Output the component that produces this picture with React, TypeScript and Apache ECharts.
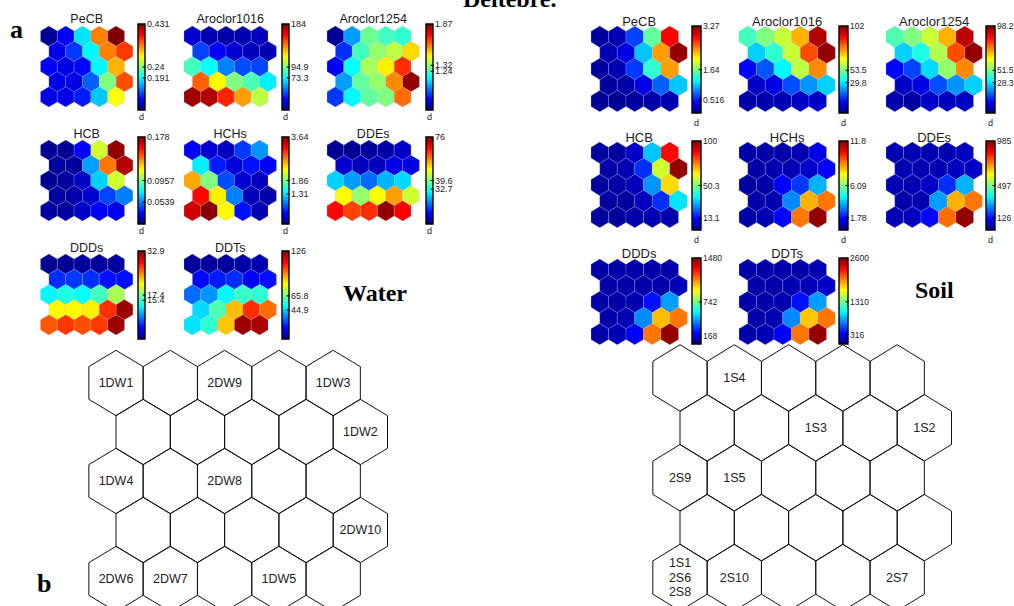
import React, { useEffect, useRef } from "react";
import * as echarts from "echarts";

// ---------------- DATA ----------------
const COLS = 5;

// colour level of each map unit (fraction of the colour bar, 0 = bottom, 1 = top), row by row
const planeNames = ["PeCB", "Aroclor1016", "Aroclor1254", "HCB", "HCHs", "DDEs", "DDDs", "DDTs"];

const waterPeCB = [0.02,0.12,0.35,0.75,1.0, 0.10,0.18,0.37,0.75,0.82, 0.12,0.10,0.13,0.37,0.70, 0.10,0.10,0.22,0.50,0.80, 0.10,0.10,0.15,0.32,0.62];
const waterAroclor1016 = [0.08,0.05,0.04,0.05,0.06, 0.19,0.12,0.08,0.06,0.05, 0.44,0.38,0.25,0.20,0.19, 0.78,0.63,0.50,0.45,0.36, 0.97,0.95,0.84,0.72,0.56];
const waterAroclor1254 = [0.02,0.28,0.48,0.44,0.42, 0.17,0.44,0.52,0.56,0.66, 0.12,0.38,0.54,0.64,0.83, 0.28,0.47,0.52,0.74,0.98, 0.18,0.37,0.47,0.50,0.77];
const waterHCB = [0.02,0.02,0.13,0.58,0.98, 0.03,0.03,0.28,0.76,0.95, 0.02,0.03,0.07,0.33,0.58, 0.03,0.04,0.08,0.19,0.25, 0.03,0.03,0.07,0.12,0.11];
const waterHCHs = [0.12,0.08,0.06,0.18,0.27, 0.36,0.15,0.09,0.14,0.12, 0.71,0.50,0.20,0.08,0.06, 0.87,0.64,0.25,0.06,0.04, 0.92,0.99,0.63,0.14,0.05];
const waterDDEs = [0.02,0.02,0.03,0.04,0.07, 0.08,0.06,0.06,0.10,0.10, 0.33,0.28,0.23,0.30,0.34, 0.63,0.52,0.62,0.72,0.58, 0.87,0.81,0.83,0.98,0.88];
const waterDDDs = [0.02,0.02,0.03,0.03,0.03, 0.17,0.18,0.17,0.14,0.14, 0.37,0.40,0.38,0.44,0.54, 0.63,0.63,0.64,0.83,0.97, 0.79,0.82,0.80,0.82,0.97];
const waterDDTs = [0.03,0.03,0.03,0.04,0.05, 0.13,0.15,0.17,0.12,0.14, 0.23,0.27,0.37,0.43,0.42, 0.34,0.45,0.69,0.83,0.77, 0.35,0.42,0.68,0.97,0.96];

const soilPeCB = [0.03,0.05,0.19,0.47,0.88, 0.05,0.10,0.32,0.72,0.98, 0.03,0.05,0.18,0.42,0.72, 0.03,0.04,0.10,0.22,0.32, 0.02,0.02,0.03,0.04,0.05];
const soilAroclor1016 = [0.44,0.50,0.57,0.70,0.95, 0.33,0.42,0.57,0.80,0.98, 0.13,0.21,0.37,0.56,0.74, 0.07,0.10,0.20,0.27,0.33, 0.04,0.04,0.05,0.07,0.07];
const soilAroclor1254 = [0.45,0.50,0.57,0.70,0.94, 0.33,0.40,0.55,0.80,0.98, 0.13,0.19,0.34,0.52,0.74, 0.07,0.10,0.20,0.27,0.33, 0.04,0.03,0.07,0.06,0.07];
const soilHCB = [0.03,0.03,0.07,0.32,0.87, 0.04,0.05,0.17,0.58,0.98, 0.03,0.04,0.06,0.27,0.66, 0.03,0.03,0.06,0.17,0.35, 0.03,0.03,0.04,0.05,0.04];
const soilHCHs = [0.04,0.04,0.04,0.05,0.10, 0.04,0.05,0.05,0.07,0.12, 0.03,0.04,0.12,0.18,0.30, 0.04,0.05,0.26,0.70,0.76, 0.04,0.05,0.13,0.76,0.98];
const soilDDEs = [0.05,0.05,0.05,0.05,0.06, 0.05,0.05,0.05,0.06,0.07, 0.05,0.05,0.07,0.17,0.30, 0.04,0.05,0.28,0.70,0.76, 0.05,0.06,0.13,0.77,0.98];
const soilDDDs = [0.04,0.04,0.04,0.04,0.04, 0.04,0.04,0.04,0.04,0.06, 0.04,0.04,0.05,0.14,0.28, 0.04,0.05,0.26,0.69,0.76, 0.04,0.05,0.12,0.76,0.98];
const soilDDTs = [0.04,0.04,0.04,0.04,0.05, 0.04,0.04,0.05,0.06,0.07, 0.04,0.04,0.05,0.14,0.28, 0.04,0.05,0.26,0.68,0.76, 0.04,0.05,0.12,0.76,0.98];

// colour-bar tick labels and their level on the bar
const waterTickLabels = [
  ["0.431", "0.24", "0.191"], ["184", "94.9", "73.3"], ["1.87", "1.32", "1.24"],
  ["0.178", "0.0957", "0.0539"], ["3.64", "1.86", "1.31"], ["76", "39.6", "32.7"],
  ["32.9", "17.4", "15.4"], ["126", "65.8", "44.9"],
];
const waterTickLevels = [
  [1, 0.5, 0.372], [1, 0.5, 0.375], [1, 0.52, 0.45],
  [1, 0.5, 0.25], [1, 0.5, 0.345], [1, 0.5, 0.4],
  [1, 0.5, 0.44], [1, 0.49, 0.33],
];
const soilTickLabels = [
  ["3.27", "1.64", "0.516"], ["102", "53.5", "29.8"], ["98.2", "51.5", "28.3"],
  ["100", "50.3", "13.1"], ["11.8", "6.09", "1.78"], ["985", "497", "126"],
  ["1480", "742", "168"], ["2600", "1310", "316"],
];
const soilTickLevels = [
  [1, 0.5, 0.15], [1, 0.49, 0.35], [1, 0.49, 0.35],
  [1, 0.5, 0.13], [1, 0.5, 0.14], [1, 0.5, 0.14],
  [1, 0.49, 0.09], [1, 0.49, 0.11],
];
const barRange = [0, 1];

// samples projected on the map units (row by row)
const waterSamples = ["1DW1", "", "2DW9", "", "1DW3", "", "", "", "", "1DW2", "1DW4", "", "2DW8", "", "", "", "", "", "", "2DW10", "2DW6", "2DW7", "", "1DW5", ""];
const soilSamples = ["", "1S4", "", "", "", "", "", "1S3", "", "1S2", "2S9", "1S5", "", "", "", "", "", "", "", "", "1S1\n2S6\n2S8", "2S10", "", "", "2S7"];

const waterLevels = [waterPeCB, waterAroclor1016, waterAroclor1254, waterHCB, waterHCHs, waterDDEs, waterDDDs, waterDDTs];
const soilLevels = [soilPeCB, soilAroclor1016, soilAroclor1254, soilHCB, soilHCHs, soilDDEs, soilDDDs, soilDDTs];

// ---------------- LAYOUT ----------------
const JET = ["#000080", "#0000FF", "#0080FF", "#00FFFF", "#80FF80", "#FFFF00", "#FF8000", "#FF0000", "#800000"];
const SANS = "Liberation Sans, Arial, sans-serif";
const SERIF = "Liberation Serif, Times New Roman, serif";

const layouts = {
  water: {
    planeX: [40.5, 184, 327], planeTop: [26, 140, 254], colW: 16.8, rowH: 15.2,
    barX: [138, 282, 426], barTop: [24, 137, 251], barH: [86, 87, 88], barW: 7,
    titleSize: 12.5, titleGap: [1, 0, 0], dGap: 2, tickFont: 9,
  },
  soil: {
    planeX: [591, 739, 886], planeTop: [26, 142, 259], colW: 17.5, rowH: 16.1,
    barX: [692, 839, 986], barTop: [26, 141, 258], barH: [87, 89, 86], barW: 9,
    titleSize: 13, titleGap: [-1.5, -1.5, -1.2], dGap: 5, tickFont: 8.5,
  },
};

const hexPoints = (cx: number, cy: number, rx: number, ry: number) => [
  [cx, cy - ry], [cx + rx, cy - ry / 2], [cx + rx, cy + ry / 2],
  [cx, cy + ry], [cx - rx, cy + ry / 2], [cx - rx, cy - ry / 2],
];

function buildOption() {
  const grid: any[] = [];
  const xAxis: any[] = [];
  const yAxis: any[] = [];
  const series: any[] = [];
  const planeSeries: number[] = [];
  const barSeries: any[] = [];

  (["water", "soil"] as const).forEach((kind) => {
    const L = layouts[kind];
    const levels = kind === "water" ? waterLevels : soilLevels;
    const tickLabels = kind === "water" ? waterTickLabels : soilTickLabels;
    const tickLevels = kind === "water" ? waterTickLevels : soilTickLevels;
    planeNames.forEach((name, k) => {
      const row = Math.floor(k / 3);
      const col = k % 3;
      // hexagon grid (component plane)
      const gi = grid.length;
      grid.push({ left: L.planeX[col], top: L.planeTop[row], width: 5.5 * L.colW, height: (4 + 4 / 3) * L.rowH, outerBoundsMode: "none" });
      xAxis.push({
        gridIndex: gi, type: "value", min: -0.5, max: 5, position: "top",
        axisLine: { show: false }, axisTick: { show: false }, axisLabel: { show: false }, splitLine: { show: false },
        name, nameLocation: "middle", nameGap: L.titleGap[row],
        nameTextStyle: { fontSize: L.titleSize, fontFamily: SANS, color: "#1a1a1a" },
      });
      yAxis.push({ gridIndex: gi, type: "value", min: -2 / 3, max: 4 + 2 / 3, inverse: true, show: false });
      planeSeries.push(series.length);
      series.push({
        type: "custom", xAxisIndex: gi, yAxisIndex: gi, clip: false,
        data: levels[k].map((v, i) => [i % COLS, Math.floor(i / COLS), v]),
        renderItem: (params: any, api: any) => {
          const c = api.value(0);
          const r = api.value(1);
          const p = api.coord([c + (r % 2) * 0.5, r]);
          const s = api.size([1, 1]);
          return {
            type: "polygon",
            shape: { points: hexPoints(p[0], p[1], s[0] / 2, (s[1] * 2) / 3) },
            style: { fill: api.visual("color"), stroke: "rgba(185,185,225,0.5)", lineWidth: 0.5 },
          };
        },
      });
      // colour bar
      const bi = gi + 1;
      grid.push({ left: L.barX[col], top: L.barTop[row], width: L.barW, height: L.barH[row], outerBoundsMode: "none" });
      xAxis.push({
        gridIndex: bi, type: "value", min: 0, max: 1, position: "bottom",
        axisLine: { show: false }, axisTick: { show: false }, axisLabel: { show: false }, splitLine: { show: false },
        name: row < 2 ? "d" : "", nameLocation: "middle", nameGap: L.dGap,
        nameTextStyle: { fontSize: 9, fontFamily: SANS, color: "#222", verticalAlign: "top" },
      });
      yAxis.push({ gridIndex: bi, type: "value", min: barRange[0], max: barRange[1], show: false });
      const tLv = tickLevels[k];
      const tLb = tickLabels[k];
      barSeries.push({
        type: "custom", xAxisIndex: bi, yAxisIndex: bi, clip: false,
        data: [[barRange[0], barRange[1]]],
        renderItem: (params: any, api: any) => {
          const p0 = api.coord([0, api.value(0)]);
          const p1 = api.coord([1, api.value(1)]);
          const children: any[] = [
            {
              type: "rect",
              shape: { x: p0[0], y: p1[1], width: p1[0] - p0[0], height: p0[1] - p1[1] },
              style: {
                fill: new echarts.graphic.LinearGradient(0, 1, 0, 0, JET.map((c, i) => ({ offset: i / (JET.length - 1), color: c }))),
                stroke: "#000", lineWidth: 1.4,
              },
            },
          ];
          tLv.forEach((lv, j) => {
            const q = api.coord([1, lv]);
            if (j > 0) {
              children.push({ type: "line", shape: { x1: q[0] - 2.5, y1: q[1], x2: q[0] + 1, y2: q[1] }, style: { stroke: "#000", lineWidth: 1 } });
            }
            children.push({
              type: "text", x: q[0] + 2, y: q[1],
              style: { text: tLb[j], align: "left", verticalAlign: "middle", fontSize: L.tickFont, fontFamily: SANS, fill: "#222" },
            });
          });
          return { type: "group", children };
        },
      });
    });
  });
  barSeries.forEach((s) => series.push(s));

  // sample hit maps
  const maps = [
    { samples: waterSamples, left: 88.85, top: 350.3, colW: 54.3, rowH: 49 },
    { samples: soilSamples, left: 652.85, top: 344.7, colW: 54.3, rowH: 49.9 },
  ];
  maps.forEach((m) => {
    const gi = grid.length;
    grid.push({ left: m.left, top: m.top, width: 5.5 * m.colW, height: (4 + 4 / 3) * m.rowH, outerBoundsMode: "none" });
    xAxis.push({ gridIndex: gi, type: "value", min: -0.5, max: 5, show: false });
    yAxis.push({ gridIndex: gi, type: "value", min: -2 / 3, max: 4 + 2 / 3, inverse: true, show: false });
    series.push({
      type: "custom", xAxisIndex: gi, yAxisIndex: gi, clip: false,
      data: m.samples.map((s, i) => [i % COLS, Math.floor(i / COLS)]),
      renderItem: (params: any, api: any) => {
        const c = api.value(0);
        const r = api.value(1);
        const p = api.coord([c + (r % 2) * 0.5, r]);
        const s = api.size([1, 1]);
        return {
          type: "group",
          children: [
            {
              type: "polygon",
              shape: { points: hexPoints(p[0], p[1], s[0] / 2, (s[1] * 2) / 3) },
              style: { fill: "rgba(0,0,0,0)", stroke: "#111", lineWidth: 1 },
            },
            {
              type: "text", x: p[0], y: p[1],
              style: {
                text: m.samples[params.dataIndex], align: "center", verticalAlign: "middle",
                fontSize: 12.5, fontFamily: SANS, fill: "#222", lineHeight: 14.5,
              },
            },
          ],
        };
      },
    });
  });

  return {
    animation: false,
    backgroundColor: "#fff",
    grid, xAxis, yAxis, series,
    visualMap: {
      type: "continuous", show: false, min: 0, max: 1, dimension: 2,
      seriesIndex: planeSeries, inRange: { color: JET },
    },
    graphic: [
      { type: "text", left: 463, top: -13, style: { text: "Deltebre.", font: `bold 24px ${SERIF}`, fill: "#000" } },
      { type: "text", x: 10, y: 29, style: { text: "a", font: `bold 26px ${SERIF}`, fill: "#000", verticalAlign: "middle" } },
      { type: "text", x: 37, y: 583, style: { text: "b", font: `bold 26px ${SERIF}`, fill: "#000", verticalAlign: "middle" } },
      { type: "text", x: 343, y: 293, style: { text: "Water", font: `bold 24px ${SERIF}`, fill: "#000", verticalAlign: "middle" } },
      { type: "text", x: 915, y: 290, style: { text: "Soil", font: `bold 24px ${SERIF}`, fill: "#000", verticalAlign: "middle" } },
    ],
  };
}

export default function App() {
  const ref = useRef<HTMLDivElement>(null);
  useEffect(() => {
    if (!ref.current) return;
    const chart = echarts.init(ref.current, undefined, { renderer: "svg" });
    chart.setOption(buildOption() as any);
    return () => chart.dispose();
  }, []);
  return <div ref={ref} style={{ position: "absolute", left: 0, top: 0, width: 1014, height: 606, background: "#fff" }} />;
}
